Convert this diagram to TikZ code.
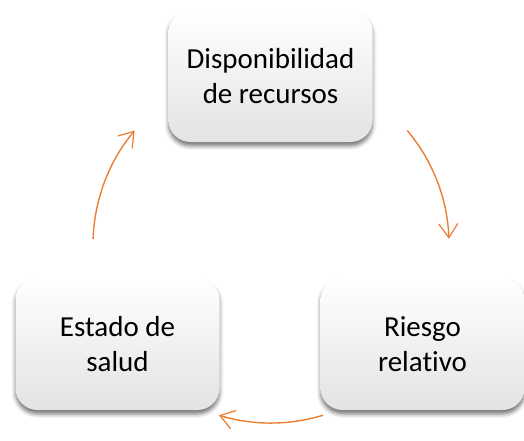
\documentclass[tikz,border=0pt]{standalone}
\usepackage{fontspec}
\setmainfont[Ligatures={NoCommon}]{Carlito}
\usetikzlibrary{arrows.meta,shadows.blur}
\definecolor{cycorange}{HTML}{ED7D31}
\tikzset{
  cycbox/.style={rounded corners=22pt, minimum width=204pt, minimum height=132pt,
    top color=white, bottom color=black!11, draw=none, align=center,
    font=\fontsize{29}{35.5}\selectfont,
    blur shadow={shadow xshift=0pt, shadow yshift=-4pt, shadow blur radius=4pt, shadow opacity=55}},
  cycarrow/.style={draw=cycorange, line width=1.4pt, -{Straight Barb[length=14pt,width=19pt,line width=1.2pt]}}
}
\begin{document}
\begin{tikzpicture}[x=1pt,y=1pt]
\useasboundingbox (0,0) rectangle (524,440);
\coordinate (c) at (271,195);
\node[cycbox] (top) at (270.5,364) {Disponibilidad\\de recursos};
\node[cycbox] (right) at (422.5,96) {Riesgo\\relativo};
\node[cycbox] (left) at (117.5,96) {Estado de\\salud};
\draw[cycarrow] ([shift={(40:178)}]c) arc[start angle=40, end angle=2, radius=178];
\draw[cycarrow] ([shift={(-73:178)}]c) arc[start angle=-73, end angle=-107, radius=178];
\draw[cycarrow] ([shift={(178:178)}]c) arc[start angle=178, end angle=140, radius=178];
\end{tikzpicture}
\end{document}
